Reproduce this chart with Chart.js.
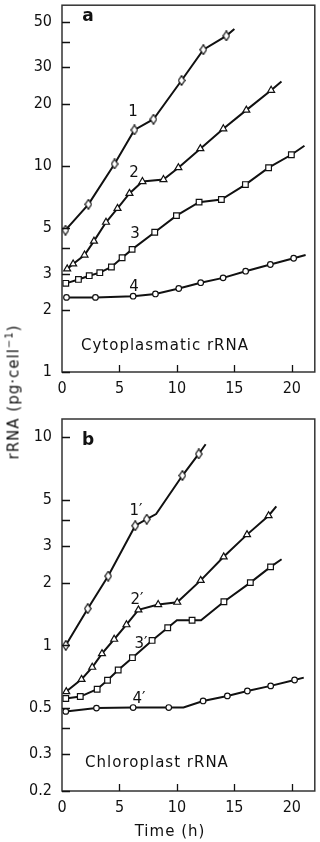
<!DOCTYPE html>
<html>
<head>
<meta charset="utf-8">
<script src="https://cdn.jsdelivr.net/npm/chart.js@4"></script>
<style>
  body { margin: 0; background: #fff; }
  #wrap { position: relative; width: 320px; height: 842px; overflow: hidden; font-family: "DejaVu Sans", sans-serif; color: #111; }
  .panel { position: absolute; left: 0; }
  .txt { position: absolute; transform: translate(-50%, -50%); white-space: nowrap; line-height: 1; }
  .lab { font-size: 15px; }
  .big { font-size: 15px; letter-spacing: 1px; }
  .pl { font-size: 17px; font-weight: bold; }
</style>
</head>
<body>
<div id="wrap">
  <canvas id="chartA" class="panel" style="top:0" width="320" height="400"></canvas>
  <canvas id="chartB" class="panel" style="top:400px" width="320" height="442"></canvas>

  <div class="txt pl" style="left:88px;top:15px">a</div>
  <div class="txt lab" style="left:133px;top:111px">1</div>
  <div class="txt lab" style="left:134px;top:172px">2</div>
  <div class="txt lab" style="left:135px;top:233px">3</div>
  <div class="txt lab" style="left:134px;top:286px">4</div>
  <div class="txt big" style="left:165px;top:345px">Cytoplasmatic rRNA</div>

  <div class="txt pl" style="left:88px;top:439px">b</div>
  <div class="txt lab" style="left:136px;top:510px">1′</div>
  <div class="txt lab" style="left:137px;top:599px">2′</div>
  <div class="txt lab" style="left:141px;top:643px">3′</div>
  <div class="txt lab" style="left:139px;top:698px">4′</div>
  <div class="txt big" style="left:157px;top:762px">Chloroplast rRNA</div>

  <div class="txt big" style="left:170px;top:831px">Time (h)</div>
  <div class="txt big" style="left:13px;top:392px;transform:translate(-50%,-50%) rotate(-90deg)">rRNA (pg·cell<sup style="font-size:10px">−1</sup>)</div>
</div>
<script>
// time axis (h)
const xTicks = [0, 5, 10, 15, 20];

// panel a: cytoplasmatic rRNA (pg per cell), [time, value]
const yTicksA = [1, 2, 3, 4, 5, 10, 20, 30, 40, 50];
const yLabelsA = ['1', '2', '3', '', '5', '10', '20', '30', '', '50'];
const cyto1 = [[0.3, 4.87], [2.3, 6.5], [4.57, 10.2], [6.3, 14.9], [7.96, 16.8], [10.4, 25.9], [12.3, 36.5], [14.3, 42.6]];
const cyto1Line = [[0.3, 4.87], [2.3, 6.5], [4.57, 10.2], [6.3, 14.9], [7.96, 16.8], [10.4, 25.9], [12.3, 36.5], [14.3, 42.6], [15, 46]];
const cyto2 = [[0.45, 3.16], [0.97, 3.34], [1.96, 3.69], [2.78, 4.31], [3.83, 5.32], [4.83, 6.21], [5.87, 7.34], [7.0, 8.38], [8.83, 8.57], [10.13, 9.78], [12.04, 12.1], [14.04, 15.1], [16.04, 18.6], [18.2, 23.2]];
const cyto2Line = [[0.45, 3.16], [0.97, 3.34], [1.96, 3.69], [2.78, 4.31], [3.83, 5.32], [4.83, 6.21], [5.87, 7.34], [7.0, 8.38], [8.83, 8.57], [10.13, 9.78], [12.04, 12.1], [14.04, 15.1], [16.04, 18.6], [18.2, 23.2], [19.1, 25.6]];
const cyto3 = [[0.33, 2.69], [1.43, 2.81], [2.37, 2.93], [3.29, 3.03], [4.3, 3.23], [5.23, 3.58], [6.1, 3.93], [8.07, 4.76], [9.96, 5.73], [11.93, 6.66], [13.87, 6.86], [15.96, 8.1], [17.98, 9.78], [19.96, 11.3]];
const cyto3Line = [[0.33, 2.69], [1.43, 2.81], [2.37, 2.93], [3.29, 3.03], [4.3, 3.23], [5.23, 3.58], [6.1, 3.93], [8.07, 4.76], [9.96, 5.73], [11.93, 6.66], [13.87, 6.86], [15.96, 8.1], [17.98, 9.78], [19.96, 11.3], [21.1, 12.5]];
const cyto4 = [[0.39, 2.3], [2.91, 2.3], [6.19, 2.33], [8.13, 2.39], [10.16, 2.54], [12.07, 2.71], [14.02, 2.86], [15.98, 3.08], [18.13, 3.32], [20.16, 3.56]];
const cyto4Line = [[0.39, 2.3], [2.91, 2.3], [6.19, 2.33], [8.13, 2.39], [10.16, 2.54], [12.07, 2.71], [14.02, 2.86], [15.98, 3.08], [18.13, 3.32], [20.16, 3.56], [21.2, 3.69]];

// panel b: chloroplast rRNA
const yTicksB = [0.2, 0.3, 0.4, 0.5, 1, 2, 3, 4, 5, 10];
const yLabelsB = ['0.2', '0.3', '', '0.5', '1', '2', '3', '', '5', '10'];
const chl1 = [[0.33, 1.0], [2.24, 1.5], [4.02, 2.15], [6.37, 3.75], [7.37, 4.03], [10.48, 6.53], [11.9, 8.29]];
const chl1Line = [[0.33, 1.0], [2.24, 1.5], [4.02, 2.15], [6.37, 3.75], [7.37, 4.03], [8.19, 4.27], [10.48, 6.53], [11.9, 8.29], [12.5, 9.23]];
const chl2 = [[0.37, 0.6], [1.7, 0.687], [2.63, 0.785], [3.48, 0.913], [4.54, 1.07], [5.61, 1.256], [6.65, 1.48], [8.37, 1.57], [10.03, 1.61], [12.07, 2.05], [14.07, 2.66], [16.1, 3.4], [17.98, 4.19]];
const chl2Line = [[0.37, 0.6], [1.7, 0.687], [2.63, 0.785], [3.48, 0.913], [4.54, 1.07], [5.61, 1.256], [6.65, 1.48], [8.37, 1.57], [10.03, 1.61], [12.07, 2.05], [14.07, 2.66], [16.1, 3.4], [17.98, 4.19], [18.65, 4.64]];
const chl3 = [[0.33, 0.556], [1.59, 0.568], [3.06, 0.616], [3.96, 0.68], [4.89, 0.762], [6.13, 0.873], [7.84, 1.056], [9.2, 1.215], [11.32, 1.32], [14.09, 1.62], [16.39, 2.0], [18.15, 2.38]];
const chl3Line = [[0.33, 0.556], [1.59, 0.568], [3.06, 0.616], [3.96, 0.68], [4.89, 0.762], [6.13, 0.873], [7.84, 1.056], [9.2, 1.215], [10.0, 1.32], [12.1, 1.32], [14.09, 1.62], [16.39, 2.0], [18.15, 2.38], [19.11, 2.59]];
const chl4 = [[0.33, 0.482], [3.0, 0.5], [6.19, 0.503], [9.29, 0.503], [12.28, 0.541], [14.39, 0.572], [16.13, 0.604], [18.16, 0.639], [20.24, 0.682]];
const chl4Line = [[0.33, 0.482], [3.0, 0.5], [6.19, 0.503], [9.29, 0.503], [10.57, 0.503], [12.28, 0.541], [14.39, 0.572], [16.13, 0.604], [18.16, 0.639], [20.24, 0.682], [21.04, 0.70]];

const INK = '#111';
const tickFont = { family: '"DejaVu Sans Condensed", "DejaVu Sans", sans-serif', size: 16 };

// tall narrow diamond marker
function diamond() {
    const c = document.createElement('canvas');
    c.width = 8; c.height = 11;
    const g = c.getContext('2d');
    g.beginPath();
    g.moveTo(4, 0.7); g.lineTo(7.2, 5.5); g.lineTo(4, 10.3); g.lineTo(0.8, 5.5); g.closePath();
    g.fillStyle = '#fff'; g.fill();
    g.lineWidth = 1.2; g.strokeStyle = INK; g.stroke();
    return c;
}
const diamondImg = diamond();

const toXY = arr => arr.map(([x, y]) => ({ x, y }));

function lineSet(arr) {
    return { type: 'line', data: toXY(arr), borderColor: INK, borderWidth: 2, pointRadius: 0, fill: false, tension: 0, order: 2 };
}
function markSet(arr, style, r) {
    return { type: 'scatter', data: toXY(arr), pointStyle: style, pointRadius: r, pointBackgroundColor: '#fff',
             pointBorderColor: INK, pointBorderWidth: 1.2, showLine: false, order: 1 };
}

// frame + inward tick marks
const framePlugin = {
    id: 'frame',
    afterDraw(chart) {
        const { ctx, chartArea: a, scales } = chart;
        ctx.save();
        ctx.strokeStyle = '#333';
        ctx.lineWidth = 1.5;
        ctx.strokeRect(a.left, a.top, a.right - a.left, a.bottom - a.top);
        ctx.lineWidth = 1.3;
        ctx.strokeStyle = INK;
        ctx.beginPath();
        scales.y.ticks.forEach(t => {
            const p = Math.round(scales.y.getPixelForValue(t.value)) + 0.5;
            ctx.moveTo(a.left, p); ctx.lineTo(a.left + 8, p);
        });
        scales.x.ticks.forEach(t => {
            if (t.value === 0) return;
            const p = Math.round(scales.x.getPixelForValue(t.value)) + 0.5;
            ctx.moveTo(p, a.bottom); ctx.lineTo(p, a.bottom - 7);
        });
        ctx.stroke();
        ctx.restore();
    }
};

function makeChart(id, sets, yMin, yMax, yTicks, yLabels, padTop, xHeight) {
    return new Chart(document.getElementById(id), {
        data: { datasets: sets },
        options: {
            responsive: false,
            animation: false,
            layout: { padding: { top: padTop, right: 5, left: 0, bottom: 0 } },
            plugins: { legend: { display: false }, tooltip: { enabled: false } },
            scales: {
                x: {
                    type: 'linear', min: 0, max: 22,
                    afterBuildTicks: s => { s.ticks = xTicks.map(v => ({ value: v })); },
                    afterFit: s => { s.height = xHeight; s.paddingLeft = 0; s.paddingRight = 0; },
                    grid: { display: false, drawTicks: false },
                    border: { display: false },
                    ticks: { color: INK, font: tickFont, padding: 7, maxRotation: 0, callback: v => String(v) }
                },
                y: {
                    type: 'logarithmic', min: yMin, max: yMax,
                    afterBuildTicks: s => { s.ticks = yTicks.map(v => ({ value: v })); },
                    afterFit: s => { s.width = 62; s.paddingTop = 0; s.paddingBottom = 0; },
                    grid: { display: false, drawTicks: false },
                    border: { display: false },
                    ticks: { color: INK, font: tickFont, padding: 10,
                             callback: (v, i) => yLabels[i] }
                }
            }
        },
        plugins: [framePlugin]
    });
}

makeChart('chartA', [
    lineSet(cyto1Line), lineSet(cyto2Line), lineSet(cyto3Line), lineSet(cyto4Line),
    markSet(cyto1, diamondImg, 4), markSet(cyto2, 'triangle', 4), markSet(cyto3, 'rect', 4), markSet(cyto4, 'circle', 2.8)
], 1, 60, yTicksA, yLabelsA, 2, 28);

makeChart('chartB', [
    lineSet(chl1Line), lineSet(chl2Line), lineSet(chl3Line), lineSet(chl4Line),
    markSet(chl1, diamondImg, 4), markSet(chl2, 'triangle', 4), markSet(chl3, 'rect', 4), markSet(chl4, 'circle', 2.8)
], 0.2, 12.2, yTicksB, yLabelsB, 19, 51);
</script>
</body>
</html>
